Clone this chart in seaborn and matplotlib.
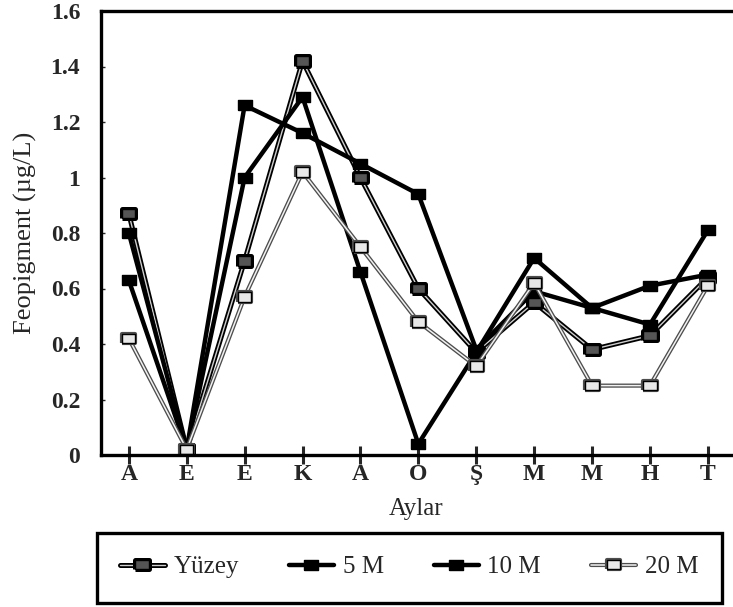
import matplotlib
matplotlib.use('Agg')
import matplotlib.pyplot as plt
import matplotlib.patheffects as pe
from matplotlib.patches import Rectangle
from matplotlib.ticker import FuncFormatter
import seaborn as sns

# months (x axis)
months = ['A', 'E', 'E', 'K', 'A', 'O', 'Ş', 'M', 'M', 'H', 'T']
positions = list(range(len(months)))

# Feopigment values (µg/L)
yuzey = [0.87, 0.02, 0.70, 1.42, 1.00, 0.60, 0.37, 0.55, 0.38, 0.43, 0.64]
m5 = [0.80, 0.02, 1.26, 1.16, 1.05, 0.94, 0.38, 0.59, 0.53, 0.61, 0.65]
m10 = [0.63, 0.02, 1.00, 1.29, 0.66, 0.04, 0.37, 0.71, 0.53, 0.47, 0.81]
m20 = [0.42, 0.02, 0.57, 1.02, 0.75, 0.48, 0.32, 0.62, 0.25, 0.25, 0.61]

series_names = ['Yüzey', '5 M', '10 M', '20 M']
y_ticks = [0, 0.2, 0.4, 0.6, 0.8, 1.0, 1.2, 1.4, 1.6]

sns.set_style('ticks')
plt.rcParams['font.family'] = ['Liberation Serif', 'DejaVu Serif']

fig = plt.figure(figsize=(7.33, 6.07), dpi=100)
ax = fig.add_axes([101/733, 1 - 455/607, (731 - 101)/733, (455 - 11)/607])

# wide flat rectangle marker
rect_marker = [(-1, -0.72), (1, -0.72), (1, 0.72), (-1, 0.72), (-1, -0.72)]

styles = {
    'Yüzey': dict(color='#cfcfcf', lw=1.0, mfc='#555555',
                  fx=[pe.Stroke(linewidth=3.6, foreground='black'), pe.Normal()]),
    '5 M': dict(color='black', lw=3.2, mfc='black', fx=None),
    '10 M': dict(color='black', lw=3.2, mfc='black', fx=None),
    '20 M': dict(color='#f2f2f2', lw=1.1, mfc='#e8e8e8',
                 fx=[pe.Stroke(linewidth=3.0, foreground='#4d4d4d'), pe.Normal()]),
}

for name, vals in zip(series_names, [yuzey, m5, m10, m20]):
    st = styles[name]
    sns.lineplot(x=positions, y=vals, ax=ax, label=name, color=st['color'],
                 linewidth=st['lw'], marker=rect_marker, markersize=9.5,
                 markerfacecolor=st['mfc'], markeredgecolor='black',
                 markeredgewidth=1.0)
    if st['fx'] is not None:
        ax.lines[-1].set_path_effects(st['fx'])

ax.set_xlim(-0.48, 10.4)
ax.set_ylim(0, 1.6)
ax.set_xticks(positions)
ax.set_xticklabels(months)
ax.set_yticks(y_ticks)
ax.yaxis.set_major_formatter(FuncFormatter(lambda v, p: f'{v:g}'))

for side in ['left', 'top', 'bottom']:
    ax.spines[side].set_linewidth(2.4)
    ax.spines[side].set_color('black')
ax.spines['right'].set_visible(False)

ax.tick_params(axis='x', direction='inout', length=13, width=2.2, labelsize=17, pad=0)
ax.tick_params(axis='y', direction='in', length=3, width=1, labelsize=17, pad=15)
for lab in ax.get_xticklabels() + ax.get_yticklabels():
    lab.set_fontweight('bold')

ax.set_xlabel('Aylar', fontsize=18, labelpad=9)
ax.set_ylabel('Feopigment (µg/L)', fontsize=19, labelpad=10)

handles, labels = ax.get_legend_handles_labels()
if ax.get_legend() is not None:
    ax.get_legend().remove()
leg = fig.legend(handles, labels, loc='center',
                 bbox_to_anchor=(409/733, 1 - 567/607),
                 ncol=4, frameon=False, fontsize=18,
                 handlelength=1.8, handletextpad=0.35, columnspacing=2.0,
                 borderaxespad=0)

# legend box drawn as a wide frame
fig.patches.append(Rectangle((97/733, 4/607), 625/733, 70/607,
                             transform=fig.transFigure, fill=False,
                             lw=2.4, ec='black'))

fig.savefig('out.png', dpi=100)
